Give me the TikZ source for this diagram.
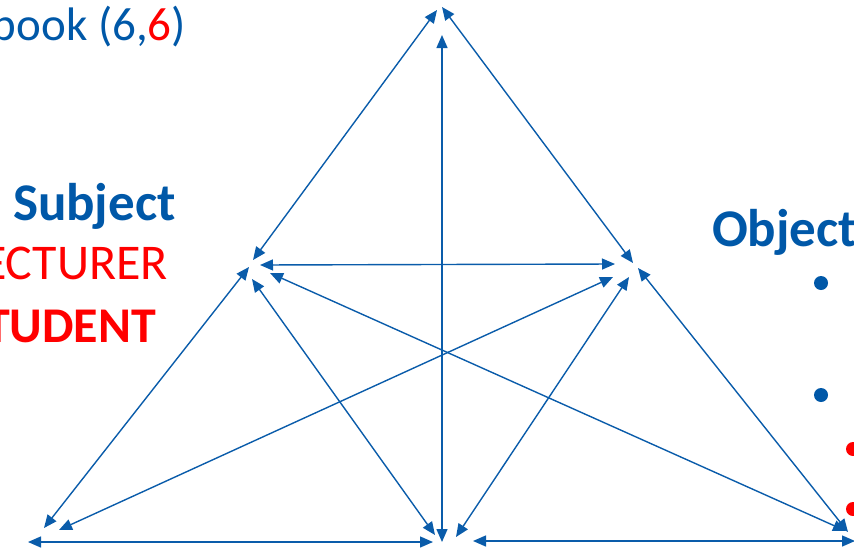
\documentclass[tikz,border=0pt]{standalone}
\usepackage{fontspec}
\setmainfont{Carlito}
\usetikzlibrary{arrows.meta}
\definecolor{lblue}{RGB}{10,92,170}
\definecolor{tblue}{RGB}{0,88,168}
\definecolor{tred}{RGB}{255,0,0}
\begin{document}
\begin{tikzpicture}[x=1pt,y=-1pt,
  link/.style={draw=lblue,line width=1.4pt,{Triangle[length=13pt,width=11pt]}-{Triangle[length=13pt,width=11pt]}},
  lab/.style={inner sep=0pt,outer sep=0pt},
  bul/.style={circle,inner sep=0pt,minimum size=14pt}]
\useasboundingbox (0,0) rectangle (854,557);
% texts
\node[lab,anchor=base east,font=\fontsize{47}{50}\selectfont,text=tblue] (book) at (186,40) {book (6,{\color{tred}6})};
\node[lab,anchor=base west,font=\fontsize{53}{56}\selectfont\bfseries,text=tblue] (subj) at (13,220) {Subject};
\node[lab,anchor=base east,font=\fontsize{50}{54}\selectfont,text=tred] (lect) at (168,279) {ECTURER};
\node[lab,anchor=base east,font=\fontsize{50}{54}\selectfont\bfseries,text=tred] (stud) at (156,342) {TUDENT};
\node[lab,anchor=base west,font=\fontsize{53}{56}\selectfont\bfseries,text=tblue] (obj) at (712,246) {Object};
\node[bul,fill=tblue] (b1) at (821,283) {};
\node[bul,fill=tblue] (b2) at (821,395) {};
\node[bul,fill=tred] (b3) at (853,449) {};
\node[bul,fill=tred] (b4) at (853,509) {};
% end points
\coordinate (t1) at (437,10);  \coordinate (ml1) at (253,260);
\coordinate (t2) at (442,7);   \coordinate (mr1) at (633,263);
\coordinate (t3) at (442,35);  \coordinate (bm1) at (442,542);
\coordinate (ml2) at (260,265); \coordinate (mr2) at (615,264);
\coordinate (ml3) at (249,267); \coordinate (bl1) at (44,528);
\coordinate (mr3) at (638,268); \coordinate (br1) at (848,532);
\coordinate (bl2) at (28,542);  \coordinate (bm2) at (433,542);
\coordinate (bm3) at (473,541); \coordinate (br2) at (855,541);
\coordinate (ml4) at (252,279); \coordinate (bm4) at (435,535);
\coordinate (mr4) at (629,277); \coordinate (bm5) at (456,537);
\coordinate (ml5) at (270,273); \coordinate (br3) at (846,531);
\coordinate (mr5) at (613,277); \coordinate (bl3) at (59,530);
% connectors
\draw[link] (t1) -- (ml1);
\draw[link] (t2) -- (mr1);
\draw[link] (t3) -- (bm1);
\draw[link] (ml2) -- (mr2);
\draw[link] (ml3) -- (bl1);
\draw[link] (mr3) -- (br1);
\draw[link] (bl2) -- (bm2);
\draw[link] (bm3) -- (br2);
\draw[link] (ml4) -- (bm4);
\draw[link] (mr4) -- (bm5);
\draw[link] (ml5) -- (br3);
\draw[link] (mr5) -- (bl3);
\end{tikzpicture}
\end{document}
